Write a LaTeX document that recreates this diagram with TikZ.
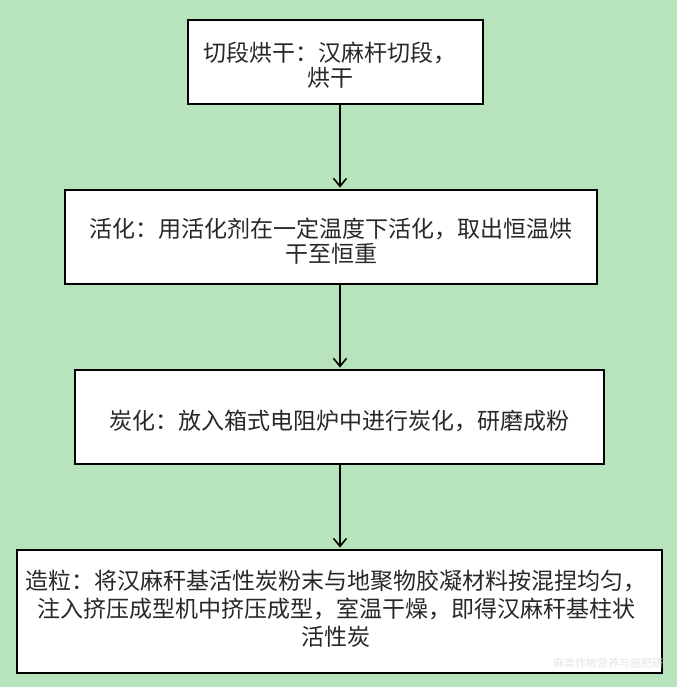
\documentclass[tikz,border=0pt]{standalone}
\usepackage{fontspec}
\newfontfamily\cjk{Noto Sans CJK SC}
\usetikzlibrary{arrows.meta}
\definecolor{bg}{RGB}{183,228,188}
\definecolor{txt}{RGB}{40,40,40}
\begin{document}
\begin{tikzpicture}[x=1pt,y=-1pt,
  stepbox/.style={draw=black, line width=2.8pt, fill=white, inner sep=0pt, rectangle},
  lbl/.style={font=\cjk\fontsize{23}{25}\selectfont, text=txt, align=center, inner sep=0pt},
  conn/.style={line width=1.6pt, shorten >=1pt, -{Straight Barb[length=8pt,width=13pt,line width=1.6pt]}},
  wmark/.style={font=\cjk\fontsize{11}{12}\selectfont, text=white!80!gray, anchor=west, inner sep=0pt}]
\fill[bg] (0,0) rectangle (677,687);
\useasboundingbox (0,0) rectangle (677,687);
\coordinate (ax) at (340,0);
% boxes
\node[stepbox, minimum width=295pt, minimum height=84pt] (b1) at (335.5,62) {};
\node[stepbox, minimum width=532pt, minimum height=94pt] (b2) at (331,237) {};
\node[stepbox, minimum width=529pt, minimum height=94pt] (b3) at (339.5,417) {};
\node[stepbox, minimum width=645pt, minimum height=123pt] (b4) at (339.5,611.5) {};
% texts
\node[lbl] (t1) at (330,65) {切段烘干：汉麻杆切段，\\烘干};
\node[lbl] (t2) at (331,241) {活化：用活化剂在一定温度下活化，取出恒温烘\\干至恒重};
\node[lbl] (t3) at (339,421) {炭化：放入箱式电阻炉中进行炭化，研磨成粉};
\node[lbl, font=\cjk\fontsize{23}{28}\selectfont] (t4) at (336,609) {造粒：将汉麻秆基活性炭粉末与地聚物胶凝材料按混捏均匀，\\注入挤压成型机中挤压成型，室温干燥，即得汉麻秆基柱状\\活性炭};
% connectors
\draw[conn] (b1.south -| ax) -- (b2.north -| ax);
\draw[conn] (b2.south -| ax) -- (b3.north -| ax);
\draw[conn] (b3.south -| ax) -- (b4.north -| ax);
% watermark
\node[wmark] (wm) at (553,663) {麻类作物营养与施肥研};
\end{tikzpicture}
\end{document}
